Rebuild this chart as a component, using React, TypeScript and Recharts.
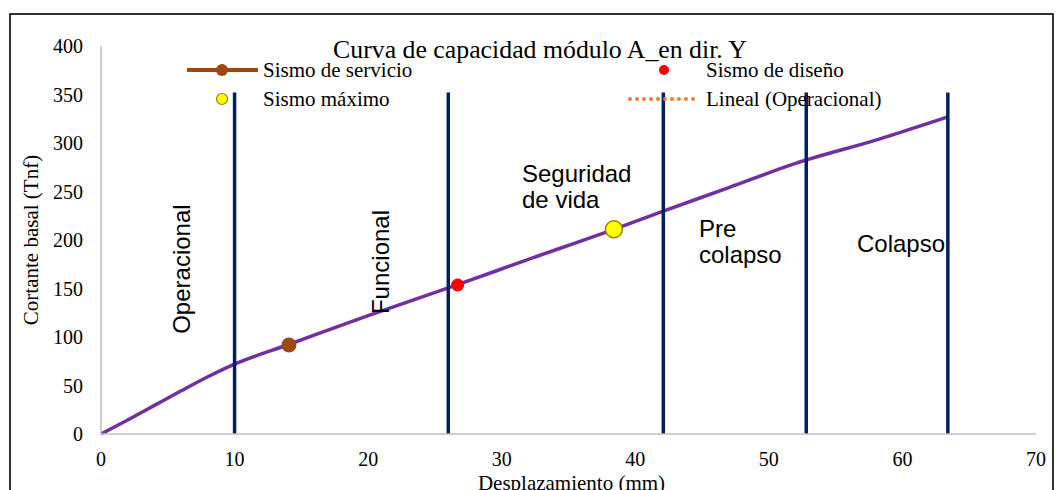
import React from "react";
import {
  ComposedChart,
  Line,
  Scatter,
  XAxis,
  YAxis,
  ReferenceLine,
  ReferenceDot,
} from "recharts";

// capacity curve (mm, Tnf)
const desplazamiento: number[] = [0, 2, 4, 6, 8, 10, 14, 20, 26.7, 32, 38.4, 42.15, 47, 52, 58, 63.4];
const cortante: number[] = [0, 14.5, 29.5, 44.5, 59, 72, 92, 122, 154, 180, 211, 230, 254, 279, 303, 327];

// performance points
const sismoServicio = [{ x: 14.07, y: 91.7 }];
const sismoDiseno = [{ x: 26.7, y: 153.6 }];
const sismoMaximo = [{ x: 38.4, y: 211 }];

// limits between performance levels
const limitesNivel: number[] = [10.0, 26.0, 42.1, 52.8, 63.4];
const alturaLimite = 352;

const xTicks: number[] = [0, 10, 20, 30, 40, 50, 60, 70];
const yTicks: number[] = [0, 50, 100, 150, 200, 250, 300, 350, 400];

const niveles = [
  { lines: ["Operacional"], x: 6.66, y: 170, vertical: true },
  { lines: ["Funcional"], x: 21.56, y: 177.3, vertical: true },
  { lines: ["Seguridad", "de vida"], x: 31.52, y: 259.8, vertical: false },
  { lines: ["Pre", "colapso"], x: 44.77, y: 203.4, vertical: false },
  { lines: ["Colapso"], x: 56.6, y: 187.6, vertical: false },
];

const curva = desplazamiento.map((x, i) => ({ x, y: cortante[i] }));

const SERIF = '"Liberation Serif", "Times New Roman", serif';
const SANS = '"Liberation Sans", Arial, sans-serif';

const NivelLabel = ({ cx, cy, item }: any) => {
  if (item.vertical) {
    return (
      <text
        transform={`translate(${cx},${cy}) rotate(-90)`}
        textAnchor="middle"
        fontFamily={SANS}
        fontSize={24}
        fill="#000"
      >
        {item.lines[0]}
      </text>
    );
  }
  return (
    <text x={cx} y={cy} fontFamily={SANS} fontSize={24} fill="#000">
      {item.lines.map((l: string, i: number) => (
        <tspan key={i} x={cx} dy={i === 0 ? 0 : 26.5}>
          {l}
        </tspan>
      ))}
    </text>
  );
};

const YTitle = ({ viewBox }: any) => (
  <text
    transform={`translate(${viewBox.x + 38},${viewBox.y + viewBox.height / 2}) rotate(-90)`}
    textAnchor="middle"
    fontFamily={SERIF}
    fontSize={21}
    fill="#000"
  >
    Cortante basal (Tnf)
  </text>
);

const XTitle = ({ viewBox }: any) => (
  <text
    x={viewBox.x + viewBox.width / 2 + 3}
    y={viewBox.y + viewBox.height}
    textAnchor="middle"
    fontFamily={SERIF}
    fontSize={21}
    fill="#000"
  >
    Desplazamiento (mm)
  </text>
);

const Overlay = () => (
  <svg
    width={1056}
    height={490}
    style={{ position: "absolute", left: 0, top: 0, pointerEvents: "none" }}
  >
    <rect x={10} y={14} width={1043} height={520} fill="none" stroke="#000" strokeWidth={1.6} />
    <text x={540} y={58} textAnchor="middle" fontFamily={SERIF} fontSize={25.8} fill="#000">
      Curva de capacidad módulo A_en dir. Y
    </text>
    <g fontFamily={SERIF} fontSize={21} fill="#000">
      <line x1={187} y1={70} x2={258} y2={70} stroke="#9E480E" strokeWidth={4} />
      <circle cx={222} cy={70} r={6} fill="#9E480E" />
      <text x={263} y={77}>Sismo de servicio</text>
      <circle cx={664} cy={70} r={5} fill="#FF0000" />
      <text x={706} y={77}>Sismo de diseño</text>
      <circle cx={222} cy={99} r={5.5} fill="#FFFF00" stroke="#A08000" strokeWidth={1.2} />
      <text x={263} y={106}>Sismo máximo</text>
      <line
        x1={630}
        y1={99}
        x2={699}
        y2={99}
        stroke="#ED7D31"
        strokeWidth={4}
        strokeDasharray="0 7"
        strokeLinecap="round"
      />
      <text x={706} y={106}>Lineal (Operacional)</text>
    </g>
  </svg>
);

export default function App() {
  const tickStyle = { fill: "#000", fontSize: 20, fontFamily: SERIF };
  return (
    <div style={{ position: "absolute", left: 0, top: 0, width: 1056, height: 490, background: "#fff" }}>
      <ComposedChart width={1056} height={490} margin={{ top: 46, right: 20, bottom: 0, left: 0 }}>
        <XAxis
          type="number"
          dataKey="x"
          domain={[0, 70]}
          ticks={xTicks}
          height={56}
          tick={tickStyle}
          tickLine={false}
          tickMargin={12}
          axisLine={{ stroke: "#BFBFBF", strokeWidth: 1.5 }}
          label={<XTitle />}
        />
        <YAxis
          type="number"
          dataKey="y"
          domain={[0, 400]}
          ticks={yTicks}
          width={101}
          tick={tickStyle}
          tickLine={false}
          tickMargin={12}
          axisLine={{ stroke: "#BFBFBF", strokeWidth: 1.5 }}
          label={<YTitle />}
        />
        <Line
          data={curva}
          dataKey="y"
          type="monotone"
          stroke="#7030A0"
          strokeWidth={3.5}
          dot={false}
          isAnimationActive={false}
        />
        {limitesNivel.map((x) => (
          <ReferenceLine
            key={x}
            segment={[
              { x, y: 0 },
              { x, y: alturaLimite },
            ]}
            stroke="#002060"
            strokeWidth={3.5}
          />
        ))}
        <Scatter
          data={sismoServicio}
          dataKey="y"
          isAnimationActive={false}
          shape={(p: any) => <circle cx={p.cx} cy={p.cy} r={7.5} fill="#9E480E" />}
        />
        <Scatter
          data={sismoDiseno}
          dataKey="y"
          isAnimationActive={false}
          shape={(p: any) => <circle cx={p.cx} cy={p.cy} r={6.5} fill="#FF0000" />}
        />
        <Scatter
          data={sismoMaximo}
          dataKey="y"
          isAnimationActive={false}
          shape={(p: any) => (
            <circle cx={p.cx} cy={p.cy} r={8.5} fill="#FFFF00" stroke="#A08000" strokeWidth={1.5} />
          )}
        />
        {niveles.map((n) => (
          <ReferenceDot
            key={n.lines[0]}
            x={n.x}
            y={n.y}
            r={0}
            shape={(p: any) => <NivelLabel cx={p.cx} cy={p.cy} item={n} />}
          />
        ))}
      </ComposedChart>
      <Overlay />
    </div>
  );
}
